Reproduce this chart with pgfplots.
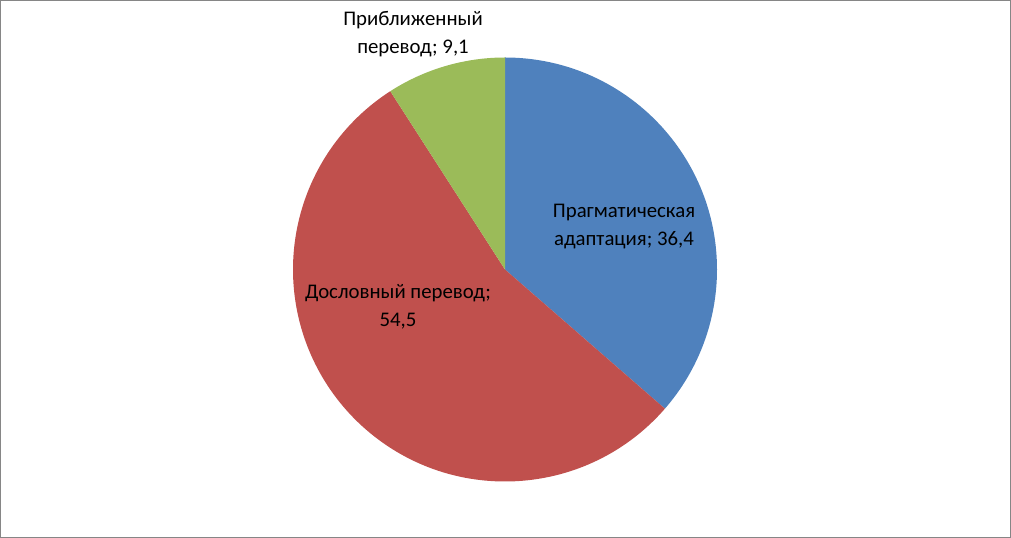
\documentclass[border=0pt]{standalone}
\usepackage{pgfplots}
\usepackage{pgfplotstable}
\pgfplotsset{compat=1.18}
\usepackage{fontspec}
\setmainfont{Carlito}

\definecolor{pieblue}{RGB}{79,129,189}
\definecolor{piered}{RGB}{192,80,77}
\definecolor{piegreen}{RGB}{155,187,89}
\definecolor{framegray}{RGB}{134,134,134}

% shares in percent, clockwise from 12 o'clock
\pgfplotstableread{
share col
36.4 pieblue
54.5 piered
9.1 piegreen
}\piedata

\begin{document}
\begin{tikzpicture}
\begin{axis}[
    x=0.75pt, y=0.75pt,
    xmin=0, xmax=1011,
    ymin=0, ymax=538,
    hide axis,
    clip=false,
]
    \draw[framegray, line width=0.75pt] (axis cs:0.5,0.5) rectangle (axis cs:1010.5,537.5);

    \def\pieangle{90}
    \pgfplotsforeachungrouped \i in {0,1,2} {
        \pgfplotstablegetelem{\i}{share}\of\piedata
        \pgfmathsetmacro\sweep{\pgfplotsretval*3.6}
        \pgfplotstablegetelem{\i}{col}\of\piedata
        \let\slicecol\pgfplotsretval
        \pgfmathsetmacro\pieend{\pieangle-\sweep}
        \edef\slice{\noexpand\fill[\slicecol] (axis cs:505,268.5) -- ++(\pieangle:159pt)
            arc[start angle=\pieangle, end angle=\pieend, radius=159pt] -- cycle;}
        \slice
        \let\pieangle\pieend
    }

    \tikzset{lbl/.style={align=center, font=\fontsize{15.6}{21}\selectfont}}
    \node[lbl] at (axis cs:624,311) {Прагматическая\\адаптация; 36,4};
    \node[lbl] at (axis cs:398,231) {Дословный перевод;\\54,5};
    \node[lbl] at (axis cs:413,504) {Приближенный\\перевод; 9,1};
\end{axis}
\end{tikzpicture}
\end{document}
